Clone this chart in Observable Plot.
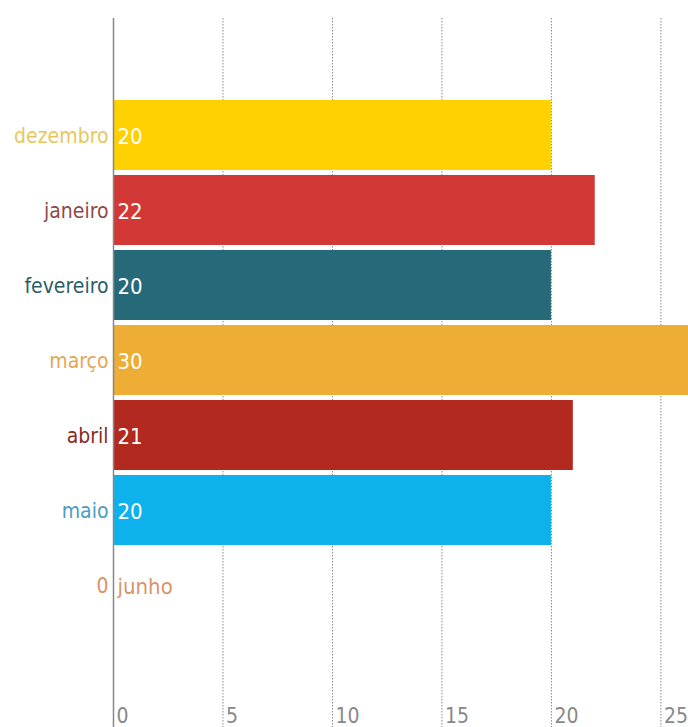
<!DOCTYPE html>
<html>
<head>
<meta charset="utf-8">
<script src="https://cdn.jsdelivr.net/npm/d3@7"></script>
<script src="https://cdn.jsdelivr.net/npm/@observablehq/plot@0.6"></script>
<style>
  body { margin: 0; background: #fff; }
  svg { font-family: "Liberation Sans Narrow", "DejaVu Sans Condensed", "Roboto Condensed", sans-serif; font-stretch: condensed; }
</style>
</head>
<body>
<div id="chart"></div>
<script>
const months = ["dezembro", "janeiro", "fevereiro", "março", "abril", "maio", "junho"];
const values = [20, 22, 20, 30, 21, 20, 0];
const barColors = ["#FFD100", "#D23835", "#266A79", "#EEAD35", "#B2291F", "#0DB1EB", "#E8A06A"];
const labelColors = ["#E9C75C", "#8E4A4A", "#2B5D69", "#E3A856", "#8A2A22", "#4C9CC4", "#D99466"];
const xTicks = [0, 5, 10, 15, 20, 25];

const data = months.map((m, i) => ({month: m, value: values[i], bar: barColors[i], label: labelColors[i]}));

const chart = Plot.plot({
  width: 688,
  height: 727,
  marginLeft: 113,
  marginRight: 0,
  marginTop: 18,
  marginBottom: 0,
  style: {background: "#fff", fontSize: "21px"},
  color: {type: "identity"},
  x: {domain: [0, 26.26], axis: null},
  y: {domain: months, axis: null, insetTop: 82, insetBottom: 107, paddingInner: 0.0667, paddingOuter: 0},
  marks: [
    Plot.ruleX(xTicks.filter(t => t > 0), {stroke: "#8a8a8a", strokeDasharray: "1.5,1.5"}),
    Plot.barX(data, {y: "month", x: "value", fill: "bar", clip: true}),
    Plot.ruleX([0], {stroke: "#888", strokeWidth: 1.5}),
    Plot.text(data, {y: "month", x: 0, text: d => d.value === 0 ? String(d.value) : d.month, fill: "label", textAnchor: "end", dx: -5, dy: 1, fontSize: 21}),
    Plot.text(data, {y: "month", x: 0, text: d => d.value === 0 ? d.month : String(d.value), fill: d => d.value === 0 ? d.label : "white", textAnchor: "start", dx: 4, dy: 1, fontSize: 22}),
    Plot.text(xTicks, {x: d => d, frameAnchor: "bottom", dy: -5, textAnchor: "start", dx: 3, fill: "#888", fontSize: 21})
  ]
});
document.getElementById("chart").appendChild(chart);
</script>
</body>
</html>
